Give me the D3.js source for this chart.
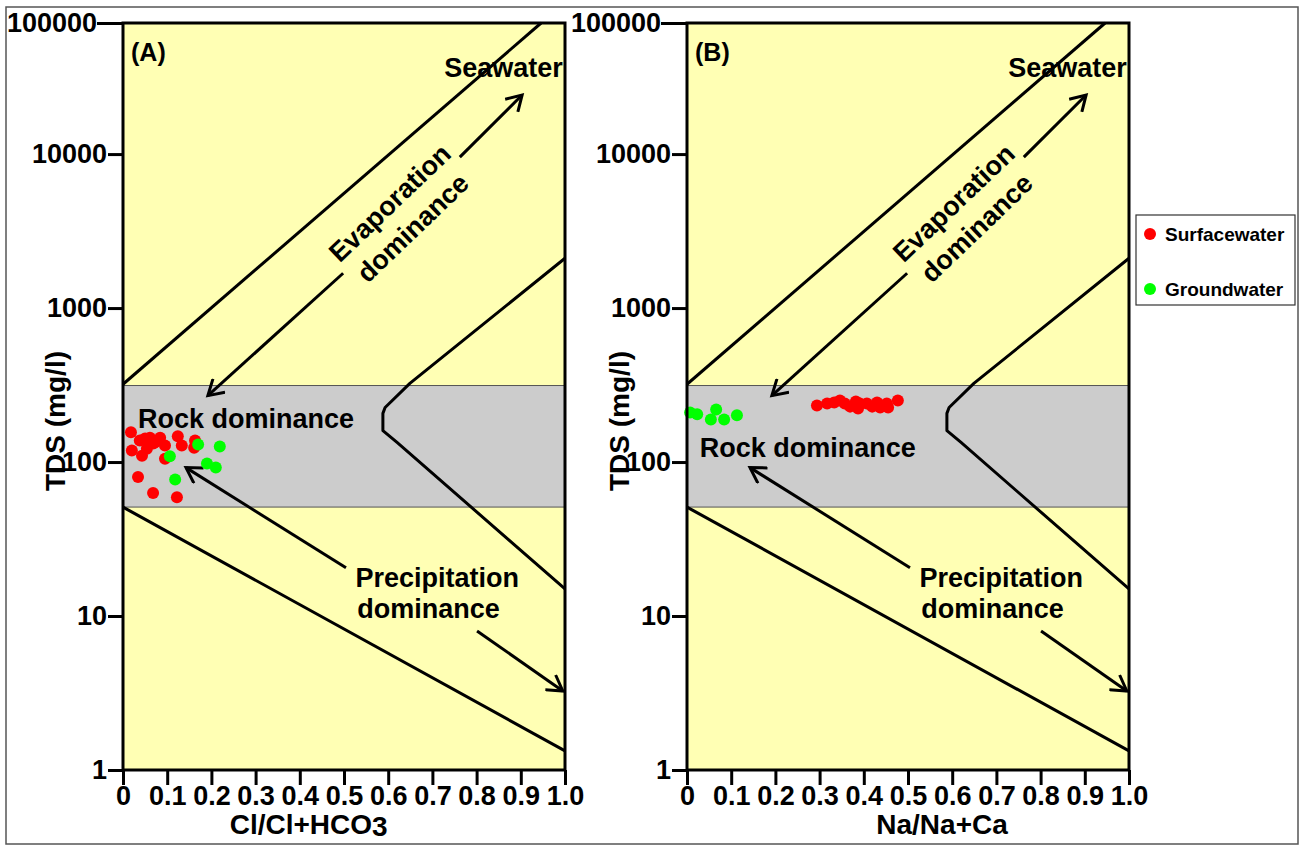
<!DOCTYPE html>
<html>
<head>
<meta charset="utf-8">
<script src="https://cdn.jsdelivr.net/npm/d3@7"></script>
<style>
  body { margin: 0; background: #fff; }
  text { font-family: "Liberation Sans", Arial, sans-serif; font-weight: bold; fill: #000; }
</style>
</head>
<body>
<script>
// ---- data ----
const xTicks = [0, 0.1, 0.2, 0.3, 0.4, 0.5, 0.6, 0.7, 0.8, 0.9, 1.0];
const xTickLabels = ["0", "0.1", "0.2", "0.3", "0.4", "0.5", "0.6", "0.7", "0.8", "0.9", "1.0"];
const yTop = 71000; // top edge of the original frame, labelled 100000
const yTicks = [1, 10, 100, 1000, 10000, yTop];
const yTickLabels = ["1", "10", "100", "1000", "10000", "100000"];

// Gibbs boundaries [ratio, TDS]
const rockBand = [51, 314];
const upperLine = [[0, 320], [0.946, yTop]];
const rightCurve = [[1.0, 2105], [0.649, 324], [0.593, 226], [0.588, 207], [0.588, 160], [0.62, 134], [1.0, 15]];
const lowerLine = [[0, 51], [1.0, 1.33]];

// arrows [from, to]
const evapArrowLow = [[0.498, 1683], [0.192, 270]];
const evapArrowHigh = [[0.762, 9550], [0.903, 24200]];
const rockArrow = [[0.5045, 20.6], [0.1425, 92]];
const precipArrow = [[0.801, 8.0], [0.995, 3.26]];

// samples, panel A: Cl/(Cl+HCO3) vs TDS
const surfaceA = [
  [0.018, 156], [0.038, 138], [0.050, 142], [0.061, 144], [0.072, 134], [0.084, 144],
  [0.095, 128], [0.124, 147], [0.133, 128], [0.163, 138], [0.161, 124], [0.020, 119],
  [0.043, 110], [0.054, 122], [0.068, 132], [0.095, 105], [0.034, 80], [0.068, 63], [0.122, 59]
];
const groundA = [[0.170, 130], [0.219, 126], [0.106, 109], [0.190, 98], [0.210, 92], [0.118, 77]];

// samples, panel B: Na/(Na+Ca) vs TDS
const surfaceB = [
  [0.294, 233], [0.317, 240], [0.333, 244], [0.346, 251], [0.357, 240], [0.369, 229],
  [0.382, 247], [0.391, 240], [0.387, 223], [0.407, 240], [0.419, 229], [0.430, 244],
  [0.437, 226], [0.452, 240], [0.455, 226], [0.477, 251]
];
const groundB = [[0.007, 210], [0.023, 204], [0.054, 189], [0.066, 219], [0.084, 189], [0.113, 201]];

const seriesNames = ["Surfacewater", "Groundwater"];
const seriesColors = ["#ff0000", "#00ff00"];

// ---- layout ----
const width = 1302;
const height = 845;
const plotW = 442;
const plotTop = 23;
const plotBottom = 770;
const yellow = "#ffffb4";
const grey = "#cccccc";

const svg = d3.select("body").append("svg")
  .attr("width", width)
  .attr("height", height);

// outer frame
svg.append("rect")
  .attr("x", 6).attr("y", 7)
  .attr("width", 1292).attr("height", 837)
  .attr("fill", "none")
  .attr("stroke", "#555")
  .attr("stroke-width", 1.5);

svg.append("defs").append("marker")
  .attr("id", "head")
  .attr("viewBox", "0 -10 20 20")
  .attr("refX", 16).attr("refY", 0)
  .attr("markerWidth", 20).attr("markerHeight", 20)
  .attr("markerUnits", "userSpaceOnUse")
  .attr("orient", "auto")
  .append("path")
  .attr("d", "M1,-9L16,0L1,9")
  .attr("fill", "none")
  .attr("stroke", "#000")
  .attr("stroke-width", 3);

const x = d3.scaleLinear().domain([0, 1]).range([0, plotW]);
const y = d3.scaleLog().domain([1, yTop]).range([plotBottom, plotTop]);
const line = d3.line().x(d => x(d[0])).y(d => y(d[1]));

function styleAxisText(sel) {
  sel.style("font-size", "27px")
    .style("font-family", "\"Liberation Sans\", Arial, sans-serif")
    .style("font-weight", "bold")
    .attr("fill", "#000");
}

function drawPanel(opts) {
  const g = svg.append("g").attr("transform", `translate(${opts.left},0)`);

  g.append("rect")
    .attr("x", 0).attr("y", plotTop)
    .attr("width", plotW).attr("height", plotBottom - plotTop)
    .attr("fill", yellow);

  g.append("rect")
    .attr("x", 0).attr("y", y(rockBand[1]))
    .attr("width", plotW).attr("height", y(rockBand[0]) - y(rockBand[1]))
    .attr("fill", grey)
    .attr("stroke", "#555")
    .attr("stroke-width", 1);

  [upperLine, rightCurve, lowerLine].forEach(pts => {
    g.append("path")
      .attr("d", line(pts))
      .attr("fill", "none")
      .attr("stroke", "#000")
      .attr("stroke-width", 3)
      .attr("stroke-linejoin", "round");
  });

  [evapArrowLow, evapArrowHigh, rockArrow, precipArrow].forEach(pts => {
    g.append("path")
      .attr("d", line(pts))
      .attr("fill", "none")
      .attr("stroke", "#000")
      .attr("stroke-width", 3)
      .attr("marker-end", "url(#head)");
  });

  // samples
  [opts.surface, opts.ground].forEach((pts, i) => {
    g.selectAll(".pt" + i)
      .data(pts)
      .enter().append("circle")
      .attr("class", "pt" + i)
      .attr("cx", d => x(d[0]))
      .attr("cy", d => y(d[1]))
      .attr("r", 6)
      .attr("fill", seriesColors[i]);
  });

  // labels
  g.append("text")
    .text(opts.tag)
    .attr("x", 8).attr("y", plotTop + 38)
    .style("font-size", "25px");

  g.append("text")
    .text("Seawater")
    .attr("x", x(0.995)).attr("y", y(31700))
    .attr("text-anchor", "end")
    .style("font-size", "27px");

  const p0 = evapArrowLow[1];
  const p1 = evapArrowHigh[1];
  const angle = Math.atan2(y(p1[1]) - y(p0[1]), x(p1[0]) - x(p0[0])) * 180 / Math.PI;
  [["Evaporation", 0.604, 4800], ["dominance", 0.656, 3300]].forEach(([t, cx, cy]) => {
    g.append("text")
      .text(t)
      .attr("transform", `translate(${x(cx)},${y(cy)}) rotate(${angle})`)
      .attr("text-anchor", "middle")
      .attr("dominant-baseline", "central")
      .style("font-size", "27px");
  });

  g.append("text")
    .text("Rock dominance")
    .attr("x", x(opts.rockPos[0])).attr("y", y(opts.rockPos[1]))
    .style("font-size", "27px");

  g.append("text")
    .text("Precipitation")
    .attr("x", x(0.526)).attr("y", y(15.4))
    .style("font-size", "27px");
  g.append("text")
    .text("dominance")
    .attr("x", x(0.530)).attr("y", y(9.74))
    .style("font-size", "27px");

  // axes
  const yAxis = g.append("g")
    .call(d3.axisLeft(y)
      .tickValues(yTicks)
      .tickFormat((d, i) => yTickLabels[i])
      .tickSize(15)
      .tickPadding(1));
  yAxis.select(".domain").remove();
  yAxis.selectAll("line").attr("stroke", "#000").attr("stroke-width", 3);
  styleAxisText(yAxis.selectAll("text"));
  yAxis.selectAll(".tick").filter(d => d === yTop).select("text").attr("x", -26);
  yAxis.selectAll(".tick").filter(d => d === yTop).select("line").attr("x2", -26);

  const xAxis = g.append("g")
    .attr("transform", `translate(0,${plotBottom})`)
    .call(d3.axisBottom(x)
      .tickValues(xTicks)
      .tickFormat((d, i) => xTickLabels[i])
      .tickSize(15)
      .tickPadding(1));
  xAxis.select(".domain").remove();
  xAxis.selectAll("line").attr("stroke", "#000").attr("stroke-width", 3);
  styleAxisText(xAxis.selectAll("text"));

  g.append("rect")
    .attr("x", 0).attr("y", plotTop)
    .attr("width", plotW).attr("height", plotBottom - plotTop)
    .attr("fill", "none")
    .attr("stroke", "#000")
    .attr("stroke-width", 3);

  // axis titles
  g.append("text")
    .text("TDS (mg/l)")
    .attr("transform", `translate(-68,421) rotate(-90)`)
    .attr("text-anchor", "middle")
    .attr("dominant-baseline", "central")
    .style("font-size", "28px");

  const xt = g.append("text")
    .attr("x", x(opts.xTitlePos)).attr("y", 834)
    .attr("text-anchor", "middle")
    .style("font-size", "28px");
  xt.append("tspan").text(opts.xTitle[0]);
  if (opts.xTitle[1]) xt.append("tspan").attr("dy", 2).text(opts.xTitle[1]);
}

drawPanel({ left: 123, tag: "(A)", surface: surfaceA, ground: groundA,
  rockPos: [0.034, 167.6], xTitle: ["Cl/Cl+HCO", "3"], xTitlePos: 0.42 });
drawPanel({ left: 687, tag: "(B)", surface: surfaceB, ground: groundB,
  rockPos: [0.029, 108.6], xTitle: ["Na/Na+Ca"], xTitlePos: 0.577 });

// legend
const legend = svg.append("g").attr("transform", "translate(1136,215)");
legend.append("rect")
  .attr("width", 159).attr("height", 90)
  .attr("fill", "#fff")
  .attr("stroke", "#333")
  .attr("stroke-width", 1.2);
seriesNames.forEach((name, i) => {
  legend.append("circle")
    .attr("cx", 14).attr("cy", 19 + i * 55)
    .attr("r", 6)
    .attr("fill", seriesColors[i]);
  legend.append("text")
    .text(name)
    .attr("x", 29).attr("y", 26 + i * 55)
    .style("font-size", "19px");
});
</script>
</body>
</html>
